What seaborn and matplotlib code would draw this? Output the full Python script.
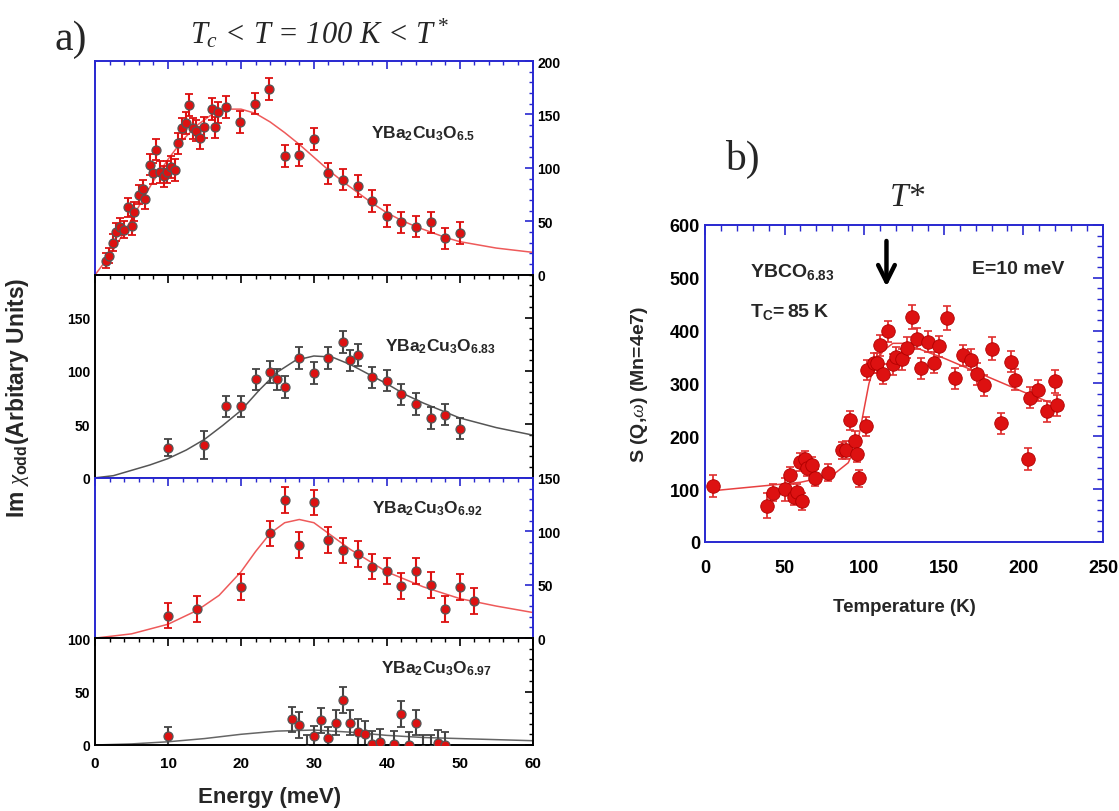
import matplotlib
matplotlib.use('Agg')
import matplotlib.pyplot as plt
import seaborn as sns
from matplotlib.ticker import MultipleLocator

# ---- panel a data: Im chi_odd vs energy (meV), four dopings ----
E_65 = [1.5, 1.9, 2.4, 2.9, 3.4, 3.9, 4.5, 5.0, 5.4, 6.0, 6.5, 6.9,
        7.5, 7.9, 8.4, 8.9, 9.4, 9.9, 10.4, 10.9, 11.4, 11.9, 12.5, 12.9,
        13.4, 13.9, 14.4, 14.9, 16.0, 16.5, 16.9, 17.9, 19.9, 21.9, 23.9,
        26.0, 28.0, 30.0, 32.0, 34.0, 36.0, 38.0, 40.0, 42.0, 44.0, 46.0, 48.0, 50.0]
I_65 = [13, 18, 30, 40, 45, 42, 63, 46, 59, 75, 80, 71,
        103, 95, 117, 96, 92, 96, 101, 98, 123, 137, 142, 159,
        137, 135, 128, 138, 155, 138, 152, 157, 143, 160, 174,
        111, 112, 127, 95, 89, 83, 69, 55, 49, 45, 49, 34, 39]
err_65 = [7, 7, 8, 8, 8, 8, 9, 9, 9, 9, 9, 9,
          10, 10, 10, 10, 10, 10, 10, 10, 10, 10, 10, 10,
          10, 10, 10, 10, 10, 10, 10, 10, 10, 10, 10,
          10, 10, 10, 10, 10, 10, 10, 10, 10, 10, 10, 10, 10]
fitE_65 = [0, 2, 4, 6, 8, 10, 12, 14, 16, 18, 20, 22, 24, 26, 28, 30,
           32, 34, 36, 38, 40, 42, 44, 46, 48, 50, 55, 60]
fitI_65 = [0, 18, 40, 64, 88, 108, 126, 140, 150, 155, 155, 151, 143, 133, 122, 110,
           98, 87, 77, 67, 58, 51, 45, 40, 35, 31, 25, 21]

E_683 = [10, 15, 18, 20, 22, 24, 25, 26, 28, 30, 32, 34, 35, 36, 38, 40, 42, 44, 46, 48, 50]
I_683 = [28, 31, 67, 67, 92, 99, 92, 85, 112, 98, 112, 127, 110, 115, 94, 91, 78, 69, 56, 59, 46]
err_683 = [8, 13, 10, 10, 10, 10, 10, 10, 10, 10, 10, 10, 10, 10, 10, 10, 10, 10, 10, 10, 10]
fitE_683 = [0, 2.5, 5, 7.5, 10, 12.5, 15, 17.5, 20, 22.5, 25, 27.5, 30, 32.5,
            35, 37.5, 40, 42.5, 45, 47.5, 50, 55, 60]
fitI_683 = [0, 2, 7, 12, 18, 26, 36, 49, 63, 82, 99, 110, 114, 113,
            106, 97, 88, 78, 70, 63, 56, 47, 40]

E_692 = [10, 14, 20, 24, 26, 28, 30, 32, 34, 36, 38, 40, 42, 44, 46, 48, 50, 52]
I_692 = [21, 27, 48, 98, 129, 87, 127, 92, 82, 79, 67, 63, 49, 63, 50, 27, 48, 35]
err_692 = [12, 12, 12, 12, 12, 12, 12, 12, 12, 12, 12, 12, 12, 12, 12, 12, 12, 12]
fitE_692 = [0, 5, 10, 14, 17, 20, 22, 24, 26, 28, 30, 32, 35, 40, 45, 50, 55, 60]
fitI_692 = [0, 4, 13, 26, 40, 62, 81, 98, 108, 111, 108, 98, 83, 62, 48, 37, 30, 24]

E_697 = [10, 27, 28, 29, 30, 31, 32, 33, 34, 35, 36, 37, 38, 39, 41, 42, 43, 44, 45, 46, 47, 48]
I_697 = [8, 24, 19, -5, 8, 23, 7, 21, 42, 21, 12, 10, 1, 3, 1, 29, 0, 21, -5, -5, 2, 0]
err_697 = [9, 12, 12, 14, 10, 12, 10, 12, 12, 12, 12, 12, 12, 12, 12, 12, 12, 12, 14, 14, 12, 12]
fitE_697 = [0, 5, 10, 15, 20, 25, 30, 35, 40, 45, 50, 55, 60]
fitI_697 = [0, 1, 3, 6, 10, 13, 14, 12, 9, 7, 6, 5, 4]

# ---- panel b data: S(Q,w) vs temperature ----
T_b = [5.2, 38.8, 43, 50, 53.4, 56, 58, 59.7, 60.8, 63,
       64, 67, 69, 77, 86, 88.6, 91, 94, 95.8, 97,
       101, 101.6, 106, 108, 110, 112, 115, 118, 120, 124,
       127, 130, 133, 136, 140, 144, 147, 152, 157, 162,
       167, 171, 175, 180, 186, 192, 195, 203, 204, 209,
       215, 220, 221]
S_b = [106, 69, 93, 100, 126, 85, 94, 151, 77, 157,
       140, 145, 122, 131, 174, 174, 230, 192, 167, 121,
       219, 326, 339, 338, 372, 318, 399, 336, 351, 346,
       368, 426, 385, 329, 379, 339, 370, 424, 310, 353,
       345, 318, 297, 366, 225, 341, 307, 157, 273, 287,
       247, 304, 259]
err_b = [20, 24, 16, 22, 16, 15, 16, 17, 16, 16,
         16, 16, 16, 16, 16, 17, 18, 18, 16, 16,
         18, 19, 19, 19, 20, 19, 20, 20, 18, 20,
         20, 22, 20, 20, 20, 20, 20, 22, 20, 20,
         20, 20, 20, 22, 20, 20, 20, 20, 20, 20,
         20, 22, 20]
fitT_b = [5, 60, 80, 90, 96, 103, 107, 112, 118, 125, 150, 175, 200, 221]
fitS_b = [97, 113, 126, 150, 190, 300, 340, 362, 376, 376, 348, 316, 284, 259]

sns.set_theme(style='white')
plt.rcParams['font.family'] = ['Liberation Sans', 'DejaVu Sans']
plt.rcParams['font.weight'] = 'bold'
plt.rcParams['axes.labelweight'] = 'bold'
plt.rcParams['mathtext.fontset'] = 'custom'
plt.rcParams['mathtext.rm'] = 'Liberation Serif:normal'
plt.rcParams['mathtext.it'] = 'Liberation Serif:italic:normal'
plt.rcParams['mathtext.bf'] = 'Liberation Sans:bold'

RED = '#dd1111'
EDGE = '#555555'
BLUE = '#2828d0'
GREY = '#444444'

fig = plt.figure(figsize=(11.19, 8.12), dpi=100)

# stacked panels for a), same vertical scale in each
ranges = [200, 190, 150, 100]
a_left, a_width = 0.085, 0.391
a_bottom, a_top = 0.0813, 0.9236
unit = (a_top - a_bottom) / sum(ranges)

panels = [
    (E_65, I_65, err_65, fitE_65, fitI_65, BLUE, RED, '#ee5a5a', r'$\mathbf{YBa_2Cu_3O_{6.5}}$', 37.9, 133, 'right'),
    (E_683, I_683, err_683, fitE_683, fitI_683, 'black', GREY, '#555555', r'$\mathbf{YBa_2Cu_3O_{6.83}}$', 39.7, 124, 'left'),
    (E_692, I_692, err_692, fitE_692, fitI_692, BLUE, RED, '#ee5a5a', r'$\mathbf{YBa_2Cu_3O_{6.92}}$', 38.0, 122, 'right'),
    (E_697, I_697, err_697, fitE_697, fitI_697, 'black', GREY, '#666666', r'$\mathbf{YBa_2Cu_3O_{6.97}}$', 39.2, 72, 'left'),
]

top = a_top
for i, (E, I, err, fE, fI, frame, ecol, lcol, label, lx, ly, side) in enumerate(panels):
    h = ranges[i] * unit
    ax = fig.add_axes([a_left, top - h, a_width, h])
    top -= h
    sns.lineplot(x=fE, y=fI, ax=ax, color=lcol, lw=1.1, zorder=1)
    ax.errorbar(E, I, yerr=err, fmt='none', ecolor=ecol, elinewidth=1.5,
                capsize=3, capthick=1.3, zorder=2)
    sns.scatterplot(x=E, y=I, ax=ax, color=RED, edgecolor=EDGE, s=42,
                    linewidth=0.9, zorder=3)
    ax.set_xlim(0, 60)
    ax.set_ylim(0, ranges[i])
    ax.xaxis.set_major_locator(MultipleLocator(10))
    ax.xaxis.set_minor_locator(MultipleLocator(2))
    ax.yaxis.set_major_locator(MultipleLocator(50))
    ax.yaxis.set_minor_locator(MultipleLocator(10))
    ax.tick_params(which='both', direction='in', top=True, right=True,
                   colors=frame, labelcolor='black', labelsize=10,
                   labelleft=(side == 'left'), labelright=(side == 'right'),
                   labelbottom=(i == 3))
    ax.tick_params(which='major', length=6, width=1.2)
    ax.tick_params(which='minor', length=3, width=1)
    if i == 3:
        ax.tick_params(axis='x', colors='black', pad=8, labelsize=11)
    for sp in ax.spines.values():
        sp.set_color(frame)
        sp.set_linewidth(1.4)
    ax.text(lx, ly, label, fontsize=12.5, va='center', ha='left')

fig.text(0.241, 0.018, 'Energy (meV)', fontsize=16, ha='center', va='center')
fig.text(0.016, 0.51, r'Im $\chi_{\mathbf{odd}}$(Arbitary Units)', fontsize=16.5,
         rotation=90, ha='center', va='center')
fig.text(0.049, 0.951, 'a)', fontsize=30, family='Liberation Serif',
         fontweight='normal', va='center')
fig.text(0.286, 0.958, r'$T_c$ < $T$ = 100 $K$ < $T^*$', fontsize=22,
         family='Liberation Serif', style='italic', fontweight='normal',
         ha='center', va='center')

# ---- panel b ----
axb = fig.add_axes([0.630, 0.3313, 0.3557, 0.3904])
sns.lineplot(x=fitT_b, y=fitS_b, ax=axb, color='#e84040', lw=1.1, zorder=1)
axb.errorbar(T_b, S_b, yerr=err_b, fmt='none', ecolor='#e03030', elinewidth=1.3,
             capsize=3, capthick=1.2, zorder=2)
sns.scatterplot(x=T_b, y=S_b, ax=axb, color=RED, edgecolor='#b00000', s=95,
                linewidth=0.6, zorder=3)
axb.set_xlim(0, 250)
axb.set_ylim(0, 600)
axb.xaxis.set_major_locator(MultipleLocator(50))
axb.xaxis.set_minor_locator(MultipleLocator(10))
axb.yaxis.set_major_locator(MultipleLocator(100))
axb.yaxis.set_minor_locator(MultipleLocator(20))
axb.tick_params(which='both', direction='in', top=True, right=True,
                colors=BLUE, labelcolor='black', labelsize=13)
axb.tick_params(which='major', length=7, width=1.2)
axb.tick_params(which='minor', length=4, width=1)
axb.tick_params(axis='x', pad=12)
for sp in axb.spines.values():
    sp.set_color(BLUE)
    sp.set_linewidth(1.4)
axb.set_xlabel('Temperature (K)', fontsize=13.5, fontweight='bold', labelpad=16)
axb.set_ylabel(r'S (Q,$\omega$) (Mn=4e7)', fontsize=14, fontweight='bold', labelpad=14)
axb.text(28, 512, r'$\mathbf{YBCO_{6.83}}$', fontsize=14, va='center')
axb.text(28, 437, r'$\mathbf{T_C\!= 85\ K}$', fontsize=14, va='center')
axb.text(168, 518, 'E=10 meV', fontsize=14, va='center')
axb.annotate('', xy=(114, 478), xytext=(114, 575),
             arrowprops=dict(arrowstyle='->', color='black', lw=3.2,
                             mutation_scale=30))
fig.text(0.663, 0.803, 'b)', fontsize=30, family='Liberation Serif',
         fontweight='normal', ha='center', va='center')
fig.text(0.811, 0.757, 'T*', fontsize=24, family='Liberation Serif',
         style='italic', fontweight='normal', ha='center', va='center')

fig.savefig('out.png', dpi=100)
